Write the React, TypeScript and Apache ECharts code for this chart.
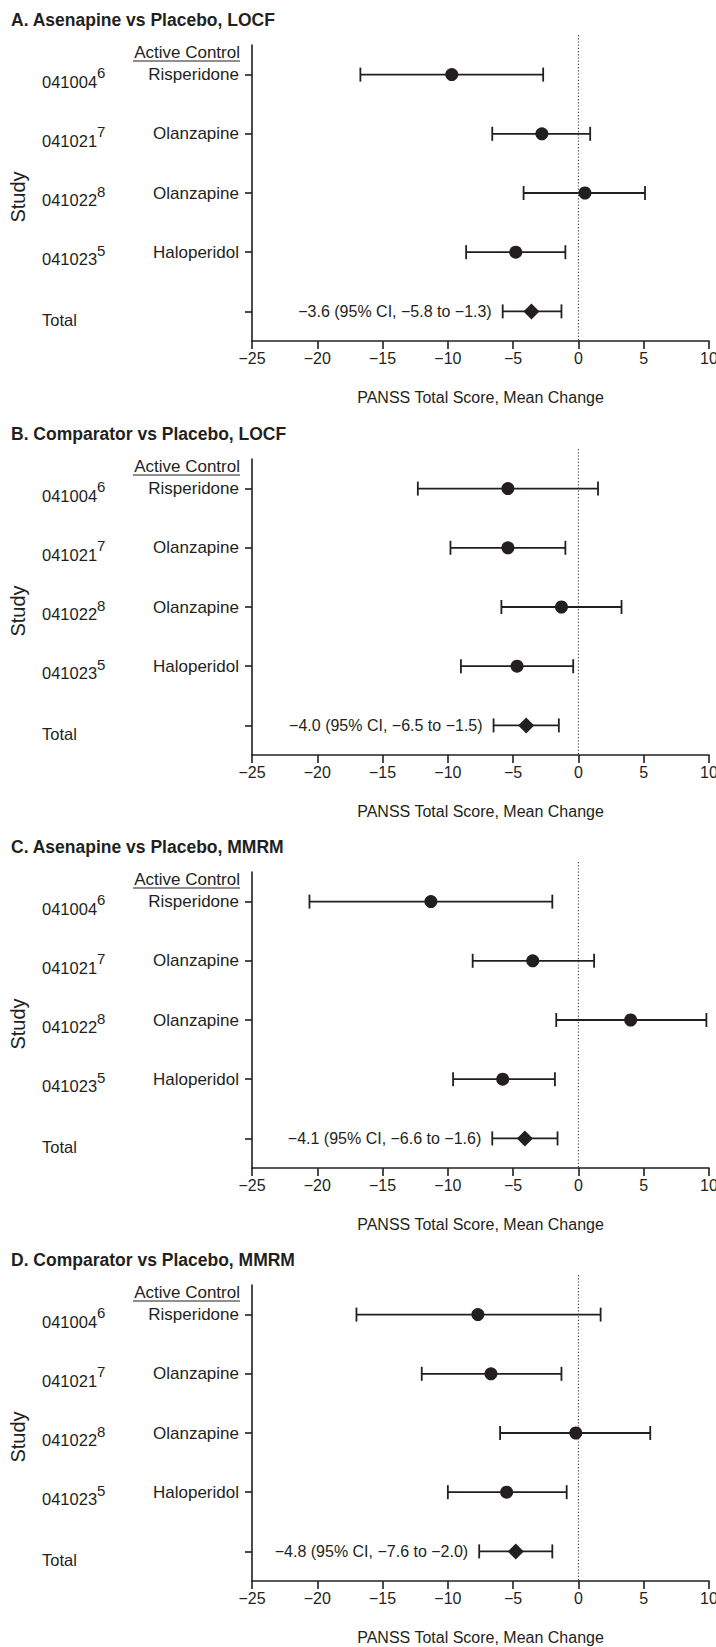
import React, { useEffect, useRef } from "react";
import * as echarts from "echarts";

// ---------- data ----------
const panelTitles = [
  "A. Asenapine vs Placebo, LOCF",
  "B. Comparator vs Placebo, LOCF",
  "C. Asenapine vs Placebo, MMRM",
  "D. Comparator vs Placebo, MMRM",
];
const studies = ["041004", "041021", "041022", "041023", "Total"];
const studyRefs = ["6", "7", "8", "5", ""];
const activeControls = ["Risperidone", "Olanzapine", "Olanzapine", "Haloperidol", ""];

// rows: 4 studies + total (last)
const meansA = [-9.7, -2.8, 0.5, -4.8, -3.6];
const lowsA = [-16.7, -6.6, -4.2, -8.6, -5.8];
const highsA = [-2.7, 0.9, 5.1, -1.0, -1.3];

const meansB = [-5.4, -5.4, -1.3, -4.7, -4.0];
const lowsB = [-12.3, -9.8, -5.9, -9.0, -6.5];
const highsB = [1.5, -1.0, 3.3, -0.4, -1.5];

const meansC = [-11.3, -3.5, 4.0, -5.8, -4.1];
const lowsC = [-20.6, -8.1, -1.7, -9.6, -6.6];
const highsC = [-2.0, 1.2, 9.8, -1.8, -1.6];

const meansD = [-7.7, -6.7, -0.2, -5.5, -4.8];
const lowsD = [-17.0, -12.0, -6.0, -10.0, -7.6];
const highsD = [1.7, -1.3, 5.5, -0.9, -2.0];

const X_MIN = -25;
const X_MAX = 10;
const X_INTERVAL = 5;
const REF_VALUE = 0;
const X_NAME = "PANSS Total Score, Mean Change";
const Y_NAME = "Study";
const ACTIVE_HEADER = "Active Control";

// ---------- layout / style ----------
const COLOR = "#231f20";
const FONT = "'Liberation Sans', Arial, sans-serif";
const PANEL_OFFSETS = [0, 414, 827, 1240];
const GRID_LEFT = 252;
const GRID_WIDTH = 457;
const GRID_TOP = 45;
const GRID_HEIGHT = 296;

const panels = [
  { means: meansA, lows: lowsA, highs: highsA },
  { means: meansB, lows: lowsB, highs: highsB },
  { means: meansC, lows: lowsC, highs: highsC },
  { means: meansD, lows: lowsD, highs: highsD },
];

const fmt = (v: number) => v.toFixed(1).replace("-", "\u2212");

function buildOption() {
  const grid: any[] = [];
  const xAxis: any[] = [];
  const yAxis: any[] = [];
  const series: any[] = [];
  const graphic: any[] = [];
  const lastRow = studies.length - 1;

  panels.forEach((p, k) => {
    const off = PANEL_OFFSETS[k];
    grid.push({
      left: GRID_LEFT,
      width: GRID_WIDTH,
      top: off + GRID_TOP,
      height: GRID_HEIGHT,
      containLabel: false,
      outerBoundsMode: "none",
    });
    xAxis.push({
      type: "value",
      gridIndex: k,
      min: X_MIN,
      max: X_MAX,
      interval: X_INTERVAL,
      splitLine: { show: false },
      axisLine: { show: true, onZero: false, lineStyle: { color: COLOR, width: 1.6 } },
      axisTick: { show: true, length: 8, lineStyle: { color: COLOR, width: 1.6 } },
      axisLabel: {
        margin: 9,
        color: COLOR,
        fontSize: 16,
        fontFamily: FONT,
        hideOverlap: false,
        showMinLabel: true,
        showMaxLabel: true,
        formatter: (v: number) => String(v).replace("-", "\u2212"),
      },
      name: X_NAME,
      nameLocation: "middle",
      nameGap: 48,
      nameTextStyle: { color: COLOR, fontSize: 16, fontFamily: FONT },
    });
    yAxis.push({
      type: "category",
      gridIndex: k,
      position: "left",
      inverse: true,
      data: activeControls,
      axisLine: { show: true, onZero: false, lineStyle: { color: COLOR, width: 1.6 } },
      axisTick: { show: true, alignWithLabel: true, length: 7, lineStyle: { color: COLOR, width: 1.6 } },
      axisLabel: { margin: 13, color: COLOR, fontSize: 17, fontFamily: FONT },
      splitLine: { show: false },
    });
    yAxis.push({
      type: "category",
      gridIndex: k,
      position: "left",
      offset: 0,
      inverse: true,
      data: studies,
      axisLine: { show: false, onZero: false },
      axisTick: { show: false },
      splitLine: { show: false },
      axisLabel: {
        margin: 210,
        align: "left",
        color: COLOR,
        fontFamily: FONT,
        formatter: (v: string, i: number) =>
          studyRefs[i] ? `{n|${v}}{s|${studyRefs[i]}}` : `{n|${v}}`,
        rich: {
          n: { fontSize: 16.5, fontFamily: FONT, color: COLOR, lineHeight: 16, padding: [8, 0, 0, 0], verticalAlign: "top" },
          s: { fontSize: 15, fontFamily: FONT, color: COLOR, lineHeight: 19, verticalAlign: "top" },
        },
      },
    });

    // reference dotted line
    series.push({
      type: "custom",
      xAxisIndex: k,
      yAxisIndex: 2 * k,
      z: 1,
      silent: true,
      clip: false,
      data: [[REF_VALUE, 0]],
      encode: { x: 0, y: 1 },
      renderItem: (params: any, api: any) => {
        const x = api.coord([api.value(0), 0])[0];
        const cs = params.coordSys;
        return {
          type: "line",
          shape: { x1: x, y1: cs.y - 10, x2: x, y2: cs.y + cs.height },
          style: { stroke: "#444", lineWidth: 1.1, lineDash: [1.2, 2] },
        };
      },
    });

    // confidence intervals
    series.push({
      type: "custom",
      xAxisIndex: k,
      yAxisIndex: 2 * k,
      z: 2,
      silent: true,
      clip: false,
      data: p.means.map((m, i) => [p.lows[i], p.highs[i], i, m]),
      encode: { x: [0, 1], y: 2 },
      renderItem: (params: any, api: any) => {
        const lo = api.value(0);
        const hi = api.value(1);
        const row = api.value(2);
        const mean = api.value(3);
        const a = api.coord([lo, row]);
        const b = api.coord([hi, row]);
        const cap = 7;
        const st = { stroke: COLOR, lineWidth: 1.8 };
        const children: any[] = [
          { type: "line", shape: { x1: a[0], y1: a[1], x2: b[0], y2: b[1] }, style: st },
          { type: "line", shape: { x1: a[0], y1: a[1] - cap, x2: a[0], y2: a[1] + cap }, style: st },
          { type: "line", shape: { x1: b[0], y1: b[1] - cap, x2: b[0], y2: b[1] + cap }, style: st },
        ];
        if (params.dataIndex === lastRow) {
          children.push({
            type: "text",
            x: a[0] - 11,
            y: a[1],
            style: {
              text: `${fmt(mean)} (95% CI, ${fmt(lo)} to ${fmt(hi)})`,
              fill: COLOR,
              fontSize: 16,
              fontFamily: FONT,
              textAlign: "right",
              textVerticalAlign: "middle",
              align: "right",
              verticalAlign: "middle",
            },
          });
        }
        return { type: "group", children };
      },
    });

    // study points
    series.push({
      type: "scatter",
      xAxisIndex: k,
      yAxisIndex: 2 * k,
      z: 3,
      symbol: "circle",
      symbolSize: 13,
      itemStyle: { color: COLOR, opacity: 1 },
      data: p.means.slice(0, lastRow).map((m, i) => [m, i]),
    });
    // total diamond
    series.push({
      type: "scatter",
      xAxisIndex: k,
      yAxisIndex: 2 * k,
      z: 3,
      symbol: "diamond",
      symbolSize: 16,
      itemStyle: { color: COLOR, opacity: 1 },
      data: [[p.means[lastRow], lastRow]],
    });

    // decorations
    graphic.push({
      type: "text",
      left: 11,
      top: off + 11,
      style: { text: panelTitles[k], fill: COLOR, fontSize: 17.5, fontWeight: "bold", fontFamily: FONT },
    });
    graphic.push({
      type: "text",
      x: 240,
      y: off + 52,
      style: {
        text: ACTIVE_HEADER,
        fill: COLOR,
        fontSize: 17,
        fontFamily: FONT,
        textAlign: "right",
        textVerticalAlign: "middle",
      },
    });
    graphic.push({
      type: "line",
      shape: { x1: 133, y1: off + 61, x2: 240, y2: off + 61 },
      style: { stroke: COLOR, lineWidth: 1.2 },
    });
    graphic.push({
      type: "text",
      x: 18,
      y: off + 197,
      rotation: Math.PI / 2,
      style: {
        text: Y_NAME,
        fill: COLOR,
        fontSize: 20,
        fontFamily: FONT,
        textAlign: "center",
        textVerticalAlign: "middle",
      },
    });
  });

  return {
    animation: false,
    backgroundColor: "#ffffff",
    grid,
    xAxis,
    yAxis,
    series,
    graphic,
  };
}

export default function App() {
  const ref = useRef<HTMLDivElement>(null);
  useEffect(() => {
    if (!ref.current) return;
    const chart = echarts.init(ref.current, undefined, { renderer: "svg" });
    chart.setOption(buildOption() as any);
    return () => chart.dispose();
  }, []);
  return (
    <div
      ref={ref}
      style={{ position: "absolute", left: 0, top: 0, width: 716, height: 1647, background: "#fff" }}
    />
  );
}
